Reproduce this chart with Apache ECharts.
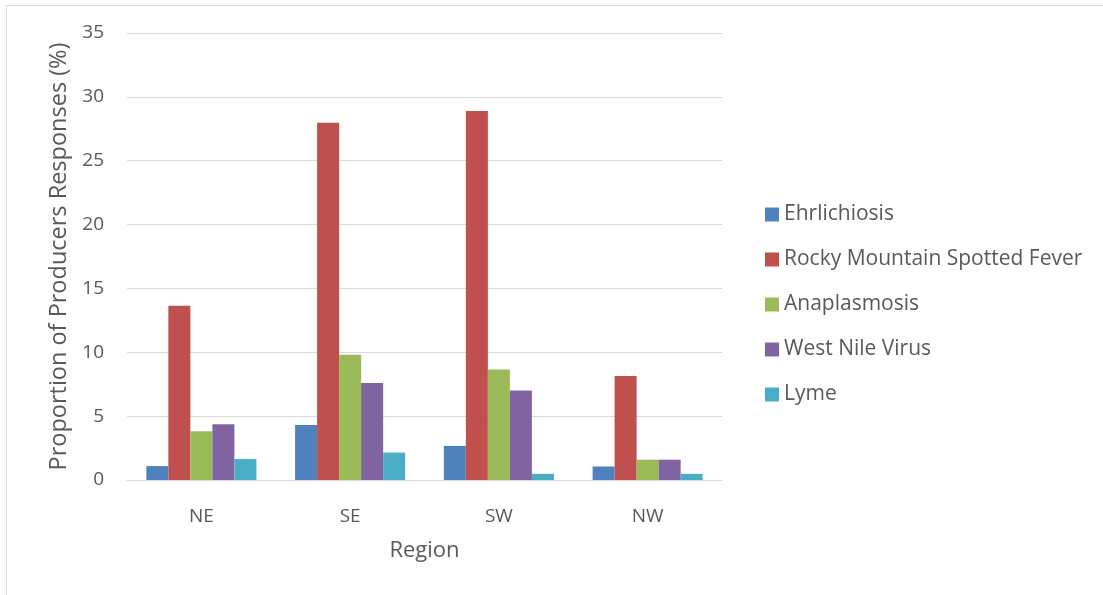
<!DOCTYPE html>
<html>
<head>
<meta charset="utf-8">
<script src="https://cdn.jsdelivr.net/npm/echarts@6/dist/echarts.min.js"></script>
<style>
  html, body { margin: 0; padding: 0; background: #fff; }
  #chart { width: 1103px; height: 595px; }
</style>
</head>
<body>
<div id="chart"></div>
<script>
// Tick-borne and mosquito-borne disease concerns reported by producers, by region
const regions = ['NE', 'SE', 'SW', 'NW'];
const seriesNames = ['Ehrlichiosis', 'Rocky Mountain Spotted Fever', 'Anaplasmosis', 'West Nile Virus', 'Lyme'];
const ehrlichiosis = [1.09, 4.31, 2.67, 1.06];
const rockyMountain = [13.64, 27.97, 28.9, 8.14];
const anaplasmosis = [3.82, 9.8, 8.65, 1.59];
const westNile = [4.36, 7.6, 7.0, 1.59];
const lyme = [1.64, 2.15, 0.48, 0.48];
const seriesValues = [ehrlichiosis, rockyMountain, anaplasmosis, westNile, lyme];
const colors = ['#4F81BD', '#C0504D', '#9BBB59', '#8064A2', '#4BACC6'];

const fontFamily = 'Open Sans, Lato, sans-serif';
const textColor = '#595959';

const chart = echarts.init(document.getElementById('chart'));
chart.setOption({
  animation: false,
  color: colors,
  graphic: [{
    type: 'rect',
    shape: { x: 6.5, y: 5.5, width: 1110, height: 600 },
    style: { fill: 'none', stroke: '#D9D9D9', lineWidth: 1 },
    silent: true
  }],
  grid: { left: 127, right: 381, top: 33, bottom: 115 },
  legend: {
    orient: 'vertical',
    left: 760,
    top: 199,
    itemWidth: 14,
    itemHeight: 14,
    itemGap: 24,
    icon: 'rect',
    data: seriesNames,
    textStyle: { fontFamily, fontSize: 21, color: textColor }
  },
  xAxis: {
    type: 'category',
    data: regions,
    name: 'Region',
    nameLocation: 'middle',
    nameGap: 60,
    nameTextStyle: { fontFamily, fontSize: 22, color: textColor },
    axisLine: { lineStyle: { color: '#D9D9D9', width: 1 } },
    axisTick: { show: false },
    axisLabel: { fontFamily, fontSize: 19, color: textColor, margin: 27 }
  },
  yAxis: {
    type: 'value',
    min: 0,
    max: 35,
    interval: 5,
    name: 'Proportion of Producers Responses (%)',
    nameLocation: 'middle',
    nameGap: 56,
    nameTextStyle: { fontFamily, fontSize: 23.5, color: textColor },
    axisLine: { show: false },
    axisTick: { show: false },
    axisLabel: { fontFamily, fontSize: 19, color: textColor, margin: 23 },
    splitLine: { lineStyle: { color: '#D9D9D9', width: 1 } }
  },
  series: seriesNames.map((name, i) => ({
    name,
    type: 'bar',
    data: seriesValues[i],
    barGap: '0%',
    barCategoryGap: '26%',
    itemStyle: { color: colors[i] }
  }))
});
</script>
</body>
</html>
